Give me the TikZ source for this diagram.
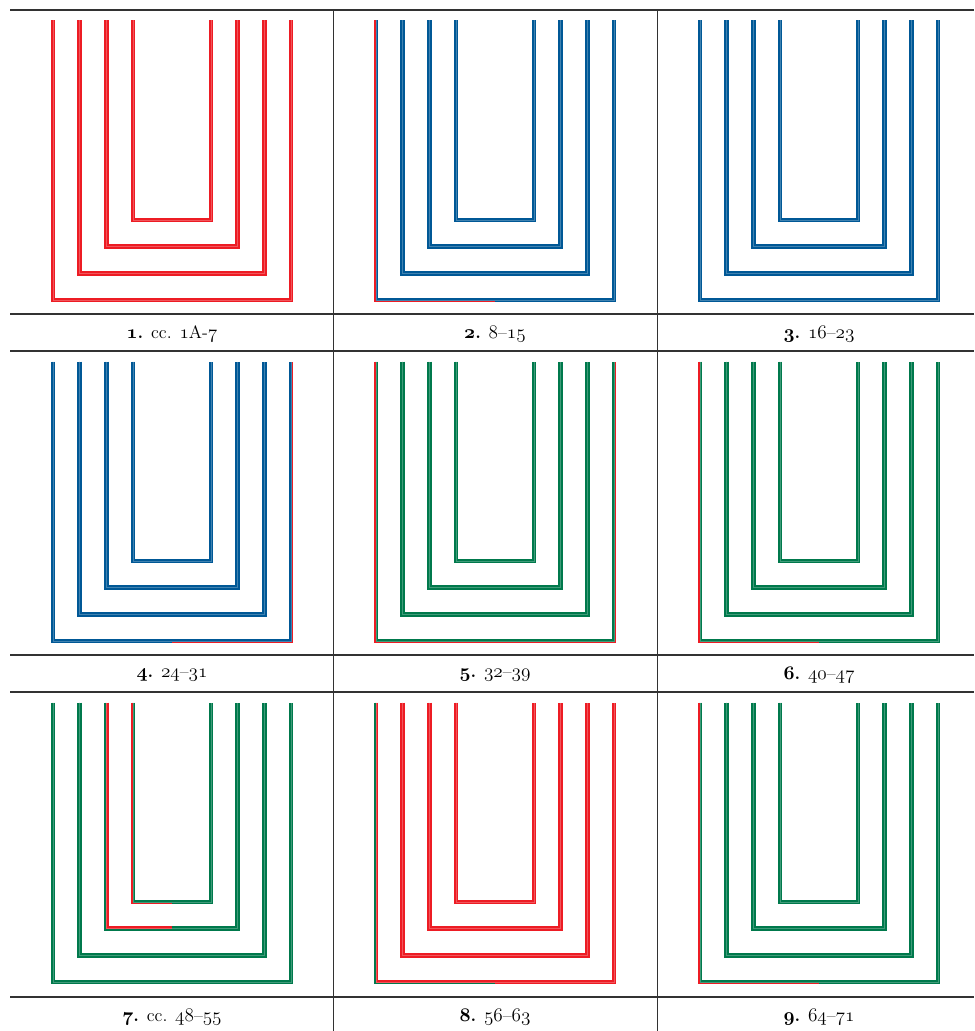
\documentclass[tikz,border=0pt]{standalone}

\definecolor{uRed}{RGB}{237,28,36}
\definecolor{uBlue}{RGB}{0,88,150}
\definecolor{uGreen}{RGB}{0,121,76}
\definecolor{ruleGray}{RGB}{50,50,50}

\tikzset{
ubase/.style={line width=3.5pt, line cap=butt, line join=miter},
stripe/.style={line width=1.75pt, line cap=butt, line join=miter},
midline/.style={line width=0.3pt, line cap=butt, line join=miter},
hrule/.style={draw=ruleGray, line width=1.2pt},
vrule/.style={draw=ruleGray, line width=0.7pt},
caption/.style={font=\fontsize{13.5}{15}\selectfont, inner sep=0pt}
}

% old style digits, regular and bold
\newcommand{\capnum}[1]{{\usefont{OML}{cmm}{m}{it}#1}}
\newcommand{\capbold}[1]{{\usefont{OML}{cmm}{b}{it}#1}\textbf{.}}

% one U: centre x, row top, level (0 = inner), left outer, left inner, right outer, right inner
\newcommand{\drawU}[7]{%
  \pgfmathsetmacro{\uL}{#1-39-26.67*#3}
  \pgfmathsetmacro{\uR}{#1+39+26.67*#3}
  \pgfmathsetmacro{\uT}{#2+10.5}
  \pgfmathsetmacro{\uB}{#2+210+26.67*#3}
  \draw[ubase, #5] (\uL,\uT) -- (\uL,\uB) -- (#1,\uB);
  \draw[ubase, #7] (#1,\uB) -- (\uR,\uB) -- (\uR,\uT);
  \draw[stripe, #4] ({\uL-1.17},\uT) -- ({\uL-1.17},{\uB+1.17}) -- (#1,{\uB+1.17});
  \draw[stripe, #6] (#1,{\uB+1.17}) -- ({\uR+1.17},{\uB+1.17}) -- ({\uR+1.17},\uT);
  \draw[midline, #5!75] (\uL,\uT) -- (\uL,\uB) -- (#1,\uB);
  \draw[midline, #7!75] (#1,\uB) -- (\uR,\uB) -- (\uR,\uT);
}

\begin{document}
\begin{tikzpicture}[x=0.75pt,y=0.75pt,yscale=-1,xscale=1]
\useasboundingbox (0,0) rectangle (974,1031);

%Table rules
\draw[hrule] (10,10) -- (974,10);
\draw[hrule] (10,314) -- (974,314);
\draw[hrule] (10,351) -- (974,351);
\draw[hrule] (10,655) -- (974,655);
\draw[hrule] (10,692) -- (974,692);
\draw[hrule] (10,997) -- (974,997);
\draw[vrule] (333,10) -- (333,1031);
\draw[vrule] (657,10) -- (657,1031);

%Panel 1
\foreach \k in {0,...,3} {\drawU{172}{10}{\k}{uRed}{uRed}{uRed}{uRed}}
%Panel 2
\foreach \k in {0,...,2} {\drawU{495}{10}{\k}{uBlue}{uBlue}{uBlue}{uBlue}}
\drawU{495}{10}{3}{uRed}{uBlue}{uBlue}{uBlue}
%Panel 3
\foreach \k in {0,...,3} {\drawU{819}{10}{\k}{uBlue}{uBlue}{uBlue}{uBlue}}

%Panel 4
\foreach \k in {0,...,2} {\drawU{172}{351}{\k}{uBlue}{uBlue}{uBlue}{uBlue}}
\drawU{172}{351}{3}{uBlue}{uBlue}{uRed}{uBlue}
%Panel 5
\foreach \k in {0,...,2} {\drawU{495}{351}{\k}{uGreen}{uGreen}{uGreen}{uGreen}}
\drawU{495}{351}{3}{uRed}{uGreen}{uRed}{uGreen}
%Panel 6
\foreach \k in {0,...,2} {\drawU{819}{351}{\k}{uGreen}{uGreen}{uGreen}{uGreen}}
\drawU{819}{351}{3}{uRed}{uGreen}{uGreen}{uGreen}

%Panel 7
\drawU{172}{692}{0}{uRed}{uGreen}{uGreen}{uGreen}
\drawU{172}{692}{1}{uGreen}{uRed}{uGreen}{uGreen}
\foreach \k in {2,3} {\drawU{172}{692}{\k}{uGreen}{uGreen}{uGreen}{uGreen}}
%Panel 8
\foreach \k in {0,...,2} {\drawU{495}{692}{\k}{uRed}{uRed}{uRed}{uRed}}
\drawU{495}{692}{3}{uGreen}{uRed}{uRed}{uRed}
%Panel 9
\foreach \k in {0,...,2} {\drawU{819}{692}{\k}{uGreen}{uGreen}{uGreen}{uGreen}}
\drawU{819}{692}{3}{uRed}{uGreen}{uGreen}{uGreen}

% Text Node
\node[caption] (cap1) at (172,334) {\capbold{1} cc. \capnum{1}A-\capnum{7}};
% Text Node
\node[caption] (cap2) at (495,334) {\capbold{2} \capnum{8}--\capnum{15}};
% Text Node
\node[caption] (cap3) at (819,334) {\capbold{3} \capnum{16}--\capnum{23}};
% Text Node
\node[caption] (cap4) at (172,675) {\capbold{4} \capnum{24}--\capnum{31}};
% Text Node
\node[caption] (cap5) at (495,675) {\capbold{5} \capnum{32}--\capnum{39}};
% Text Node
\node[caption] (cap6) at (819,675) {\capbold{6} \capnum{40}--\capnum{47}};
% Text Node
\node[caption] (cap7) at (172,1017) {\capbold{7} cc. \capnum{48}--\capnum{55}};
% Text Node
\node[caption] (cap8) at (495,1017) {\capbold{8} \capnum{56}--\capnum{63}};
% Text Node
\node[caption] (cap9) at (819,1017) {\capbold{9} \capnum{64}--\capnum{71}};

\end{tikzpicture}
\end{document}
